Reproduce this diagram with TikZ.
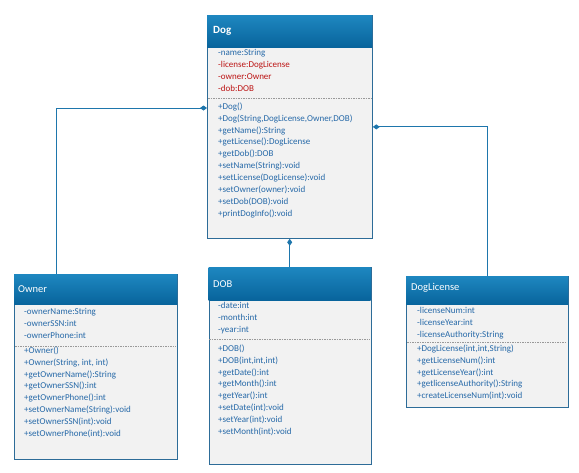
\documentclass[tikz,border=0pt]{standalone}
\usepackage{fontspec}
\setmainfont{Carlito}
\usetikzlibrary{arrows.meta}

\definecolor{umlhtop}{RGB}{30,135,192}
\definecolor{umlhbot}{RGB}{8,100,156}
\definecolor{umlline}{RGB}{45,108,152}
\definecolor{umlfill}{RGB}{242,242,242}
\definecolor{umltext}{RGB}{38,105,168}
\definecolor{umlred}{RGB}{188,20,20}
\definecolor{umlconn}{RGB}{30,118,172}

\begin{document}
\begin{tikzpicture}[x=1pt, y=-1pt,
  body/.style={draw=umlline, fill=umlfill, anchor=north west, inner sep=0pt, line width=0.8pt},
  head/.style={anchor=north west, inner sep=0pt, top color=umlhtop, bottom color=umlhbot},
  title/.style={anchor=west, inner sep=0pt, text=white, font=\fontsize{10.5}{12}\selectfont},
  members/.style={anchor=north west, inner sep=0pt, align=left, text=umltext,
                  font=\fontsize{9}{11.9}\selectfont},
  sep/.style={draw=gray!80, dash pattern=on 1.5pt off 1pt, line width=0.5pt},
  comp/.style={-{Diamond[length=7pt,width=5pt]}, draw=umlconn, line width=1pt}
]
  \useasboundingbox (0,0) rectangle (579,472);

  % Dog
  \node[body, minimum width=165pt, minimum height=223pt] (dogbody) at (207,15) {};
  \node[head, minimum width=165pt, minimum height=32pt] (doghead) at (207,15) {};
  \node[title, font=\fontsize{11}{12}\selectfont\bfseries] (dogtitle) at (213,31) {Dog};
  \node[members] (dogattr) at (218,49.5) {-name:String\\
    \textcolor{umlred}{-license:DogLicense}\\
    \textcolor{umlred}{-owner:Owner}\\
    \textcolor{umlred}{-dob:DOB}};
  \draw[sep] (208,98) -- (371,98);
  \node[members] (dogops) at (218,102.5) {+Dog()\\
    +Dog(String,DogLicense,Owner,DOB)\\
    +getName():String\\
    +getLicense():DogLicense\\
    +getDob():DOB\\
    +setName(String):void\\
    +setLicense(DogLicense):void\\
    +setOwner(owner):void\\
    +setDob(DOB):void\\
    +printDogInfo():void};

  % Owner
  \node[body, minimum width=163pt, minimum height=185pt] (ownerbody) at (14,274) {};
  \node[head, minimum width=163pt, minimum height=30pt] (ownerhead) at (14,274) {};
  \node[title] (ownertitle) at (18,289) {Owner};
  \node[members] (ownerattr) at (24,308.5) {-ownerName:String\\
    -ownerSSN:int\\
    -ownerPhone:int};
  \draw[sep] (15,346) -- (176,346);
  \node[members] (ownerops) at (24,346.5) {+Owner()\\
    +Owner(String, int, int)\\
    +getOwnerName():String\\
    +getOwnerSSN():int\\
    +getOwnerPhone():int\\
    +setOwnerName(String):void\\
    +setOwnerSSN(int):void\\
    +setOwnerPhone(int):void};

  % DOB
  \node[body, minimum width=162pt, minimum height=197pt] (dobbody) at (208.5,267) {};
  \node[head, minimum width=162pt, minimum height=33pt] (dobhead) at (208.5,267) {};
  \node[title] (dobtitle) at (213,284) {DOB};
  \node[members] (dobattr) at (218,302.5) {-date:int\\
    -month:int\\
    -year:int};
  \draw[sep] (209,339) -- (370,339);
  \node[members] (dobops) at (218,344.5) {+DOB()\\
    +DOB(int,int,int)\\
    +getDate():int\\
    +getMonth():int\\
    +getYear():int\\
    +setDate(int):void\\
    +setYear(int):void\\
    +setMonth(int):void};

  % DogLicense
  \node[body, minimum width=162pt, minimum height=131pt] (licbody) at (406,276) {};
  \node[head, minimum width=162pt, minimum height=28pt] (lichead) at (406,276) {};
  \node[title] (lictitle) at (411,288) {DogLicense};
  \node[members] (licattr) at (417,307.5) {-licenseNum:int\\
    -licenseYear:int\\
    -licenseAuthority:String};
  \draw[sep] (407,342) -- (567,342);
  \node[members] (licops) at (417,344.5) {+DogLicense(int,int,String)\\
    +getLicenseNum():int\\
    +getLicenseYear():int\\
    +getlicenseAuthority():String\\
    +createLicenseNum(int):void};

  % compositions
  \coordinate (dogL) at (207,108);
  \draw[comp] ([xshift=42pt]ownerhead.north west) |- (dogL);
  \draw[comp] (dobhead.north) -- (dobhead.north |- dogbody.south);
  \draw[comp] (lichead.north) |- (dogbody.east);
\end{tikzpicture}
\end{document}
